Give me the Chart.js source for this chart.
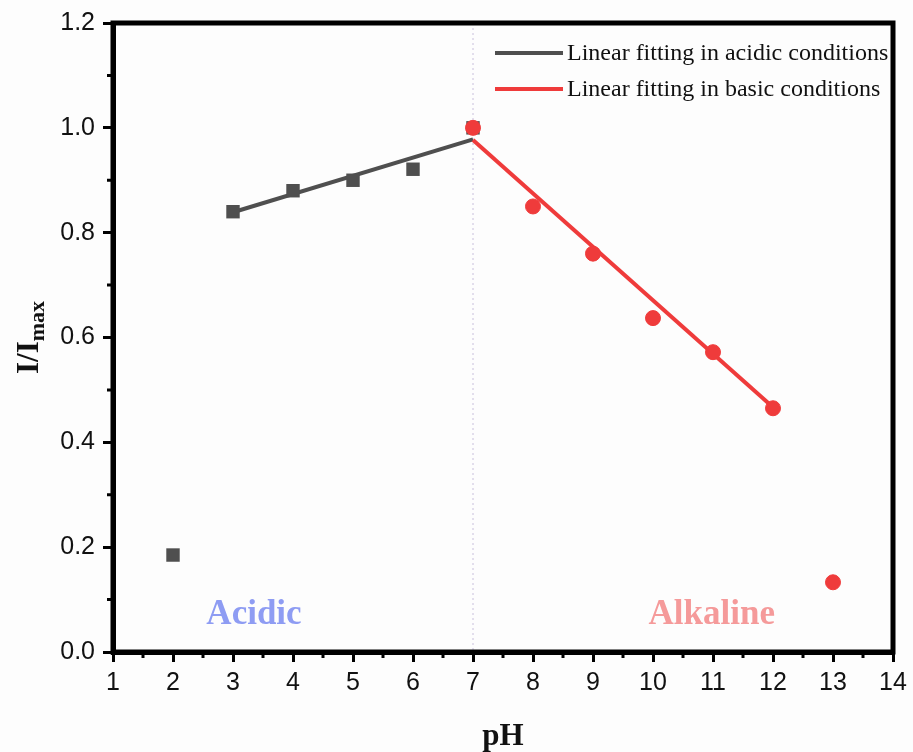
<!DOCTYPE html>
<html>
<head>
<meta charset="utf-8">
<script src="https://cdn.jsdelivr.net/npm/chart.js@4.4.1/dist/chart.umd.min.js"></script>
<style>
  html, body { margin: 0; padding: 0; background: #fdfdfd; }
  #wrap { width: 913px; height: 752px; }
</style>
</head>
<body>
<div id="wrap"><canvas id="phChart" width="913" height="752"></canvas></div>
<script>
var acidicPH = [2, 3, 4, 5, 6, 7];
var acidicI = [0.185, 0.840, 0.880, 0.900, 0.921, 1.0];

var basicPH = [7, 8, 9, 10, 11, 12, 13];
var basicI = [1.0, 0.850, 0.760, 0.637, 0.572, 0.465, 0.133];

var acidicFitPH = [3, 7];
var acidicFitI = [0.839, 0.978];

var basicFitPH = [7, 12];
var basicFitI = [0.977, 0.467];

var xTicks = [1, 2, 3, 4, 5, 6, 7, 8, 9, 10, 11, 12, 13, 14];
var yTicks = [0.0, 0.2, 0.4, 0.6, 0.8, 1.0, 1.2];

var legendLabels = ["Linear fitting in acidic conditions", "Linear fitting in basic conditions"];

var gray = "#4f4f4f";
var red = "#ef3b3b";

function toPoints(xs, ys) {
    var pts = [];
    for (var i = 0; i < xs.length; i++) {
        pts.push({ x: xs[i], y: ys[i] });
    }
    return pts;
}

var extras = {
    id: "extras",
    beforeDatasetsDraw: function (chart) {
        var ctx = chart.ctx;
        var xs = chart.scales.x;
        var a = chart.chartArea;
        var px = xs.getPixelForValue(7);
        ctx.save();
        ctx.strokeStyle = "#c9c0dc";
        ctx.lineWidth = 1;
        ctx.setLineDash([2, 3]);
        ctx.beginPath();
        ctx.moveTo(px, a.top);
        ctx.lineTo(px, a.bottom);
        ctx.stroke();
        ctx.restore();
    },
    afterDraw: function (chart) {
        var ctx = chart.ctx;
        var xs = chart.scales.x;
        var ys = chart.scales.y;
        var a = chart.chartArea;
        ctx.save();

        // frame
        ctx.strokeStyle = "#000";
        ctx.lineWidth = 5;
        ctx.strokeRect(a.left, a.top, a.right - a.left, a.bottom - a.top);

        // minor ticks
        ctx.lineWidth = 3;
        ctx.beginPath();
        for (var v = 1.5; v < 14; v += 1) {
            var x = xs.getPixelForValue(v);
            ctx.moveTo(x, a.bottom);
            ctx.lineTo(x, a.bottom + 6);
        }
        for (var w = 0.1; w < 1.2; w += 0.2) {
            var y = ys.getPixelForValue(w);
            ctx.moveTo(a.left, y);
            ctx.lineTo(a.left - 6, y);
        }
        ctx.stroke();

        // region labels
        ctx.font = "bold 35px 'Liberation Serif', 'Times New Roman', serif";
        ctx.textAlign = "center";
        ctx.textBaseline = "middle";
        ctx.fillStyle = "#8e9cf3";
        ctx.fillText("Acidic", xs.getPixelForValue(3.35), 615);
        ctx.fillStyle = "#f59a9a";
        ctx.fillText("Alkaline", xs.getPixelForValue(10.98), 615);

        // legend
        ctx.font = "24px 'Liberation Serif', 'Times New Roman', serif";
        ctx.textAlign = "left";
        ctx.lineWidth = 4;
        var cols = [gray, red];
        for (var i = 0; i < legendLabels.length; i++) {
            var ly = 53 + i * 36;
            ctx.strokeStyle = cols[i];
            ctx.beginPath();
            ctx.moveTo(495, ly);
            ctx.lineTo(563, ly);
            ctx.stroke();
            ctx.fillStyle = "#111";
            ctx.fillText(legendLabels[i], 567, ly + 1);
        }

        // axis titles
        ctx.fillStyle = "#111";
        ctx.font = "bold 31px 'Liberation Serif', 'Times New Roman', serif";
        ctx.textAlign = "center";
        ctx.fillText("pH", (a.left + a.right) / 2, 737);

        ctx.translate(30, (a.top + a.bottom) / 2);
        ctx.rotate(-Math.PI / 2);
        var mainFont = "bold 31px 'Liberation Serif', 'Times New Roman', serif";
        var subFont = "bold 22px 'Liberation Serif', 'Times New Roman', serif";
        ctx.font = mainFont;
        var w1 = ctx.measureText("I/I").width;
        ctx.font = subFont;
        var w2 = ctx.measureText("max").width;
        var start = -(w1 + w2) / 2;
        ctx.textAlign = "left";
        ctx.font = mainFont;
        ctx.fillText("I/I", start, 0);
        ctx.font = subFont;
        ctx.fillText("max", start + w1, 8);
        ctx.restore();
    }
};

var canvas = document.getElementById("phChart").getContext("2d");

var phChart = new Chart(canvas, {
    type: "scatter",
    data: {
        datasets: [
            {
                label: "basic",
                data: toPoints(basicPH, basicI),
                backgroundColor: red,
                borderColor: red,
                pointStyle: "circle",
                pointRadius: 7.5,
                showLine: false
            },
            {
                label: "acidic",
                data: toPoints(acidicPH, acidicI),
                backgroundColor: gray,
                borderColor: gray,
                pointStyle: "rect",
                pointRadius: 9.5,
                borderWidth: 0,
                showLine: false
            },
            {
                label: legendLabels[1],
                data: toPoints(basicFitPH, basicFitI),
                borderColor: red,
                borderWidth: 4,
                pointRadius: 0,
                showLine: true
            },
            {
                label: legendLabels[0],
                data: toPoints(acidicFitPH, acidicFitI),
                borderColor: gray,
                borderWidth: 4,
                pointRadius: 0,
                showLine: true
            }
        ]
    },
    options: {
        responsive: false,
        animation: false,
        layout: { padding: { left: 0, right: 20, top: 22, bottom: 0 } },
        plugins: {
            legend: { display: false },
            tooltip: { enabled: false }
        },
        scales: {
            x: {
                type: "linear",
                min: 1,
                max: 14,
                afterBuildTicks: function (scale) {
                    scale.ticks = xTicks.map(function (v) { return { value: v }; });
                },
                afterFit: function (scale) { scale.height = 100; },
                grid: { drawOnChartArea: false, drawTicks: true, tickLength: 10, color: "#000", lineWidth: 3 },
                border: { display: true, color: "#000", width: 5 },
                ticks: {
                    color: "#111",
                    padding: 6,
                    maxRotation: 0,
                    font: { family: "'Liberation Sans', Arial, sans-serif", size: 25 }
                }
            },
            y: {
                type: "linear",
                min: 0,
                max: 1.2,
                afterBuildTicks: function (scale) {
                    scale.ticks = yTicks.map(function (v) { return { value: v }; });
                },
                afterFit: function (scale) { scale.width = 113; },
                grid: { drawOnChartArea: false, drawTicks: true, tickLength: 10, color: "#000", lineWidth: 3 },
                border: { display: true, color: "#000", width: 5 },
                ticks: {
                    color: "#111",
                    padding: 8,
                    callback: function (v) { return v.toFixed(1); },
                    font: { family: "'Liberation Sans', Arial, sans-serif", size: 25 }
                }
            }
        }
    },
    plugins: [extras]
});
</script>
</body>
</html>
